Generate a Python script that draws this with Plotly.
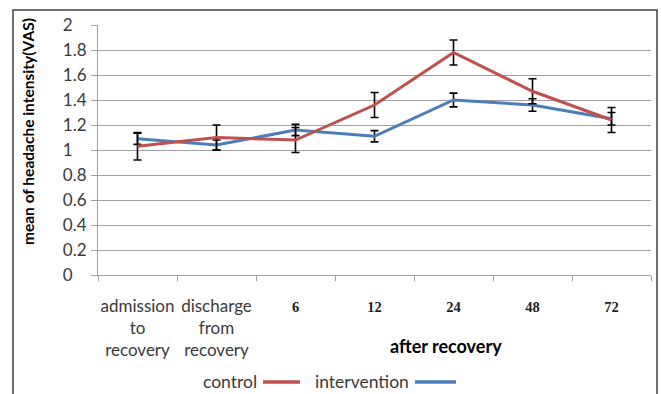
import plotly.graph_objects as go

# Time points and category labels
categories = ["admission to recovery", "discharge from recovery", "6", "12", "24", "48", "72"]
tick_labels = ["admission<br>to<br>recovery", "discharge<br>from<br>recovery", "6", "12", "24", "48", "72"]

# Mean headache intensity (VAS) and error-bar half widths
control_mean = [1.03, 1.10, 1.08, 1.36, 1.78, 1.47, 1.24]
control_err = [0.11, 0.10, 0.10, 0.10, 0.10, 0.10, 0.10]
intervention_mean = [1.09, 1.04, 1.16, 1.11, 1.40, 1.36, 1.25]
intervention_err = [0.045, 0.04, 0.045, 0.045, 0.055, 0.05, 0.05]

y_ticks = [0, 0.2, 0.4, 0.6, 0.8, 1, 1.2, 1.4, 1.6, 1.8, 2]
y_tick_text = ["0", "0.2", "0.4", "0.6", "0.8", "1", "1.2", "1.4", "1.6", "1.8", "2"]

RED = "#C0504D"
BLUE = "#4A7EBB"
GRID = "#A0A0A0"
TEXT = "#3a3a3a"
SANS = "Lato, Open Sans, sans-serif"
SERIF = "Liberation Serif, DejaVu Serif, serif"

W, H = 661, 394
L, R, T, B = 98, 10, 25, 119
PW, PH = W - L - R, H - T - B


def px_x(px):
    return (px - L) / PW


def px_y(py):
    return 1 - (py - T) / PH


def styled(label):
    # hour labels use a serif face, the text labels the sans face
    if label.isdigit():
        return (f'<span style="font-family:{SERIF};font-size:14.5px;'
                f'font-weight:bold;color:#222">{label}</span>')
    return label


def left_aligned(label, widest="0.8"):
    # pad short labels with invisible characters so every label starts at the same x
    pad = widest[len(label):] if len(label) < len(widest) else ""
    if not pad:
        return label
    return f'{label}<span style="color:rgba(0,0,0,0)">{pad}</span>'


fig = go.Figure()

fig.add_trace(go.Scatter(
    x=categories, y=intervention_mean, mode="lines", name="intervention",
    line=dict(color=BLUE, width=3),
    error_y=dict(type="data", array=intervention_err, color="black", thickness=1.6, width=4),
    showlegend=False,
))
fig.add_trace(go.Scatter(
    x=categories, y=control_mean, mode="lines", name="control",
    line=dict(color=RED, width=3),
    error_y=dict(type="data", array=control_err, color="black", thickness=1.6, width=4),
    showlegend=False,
))

fig.update_xaxes(
    type="category", automargin=False, tickangle=0,
    range=[-0.5, len(categories) - 0.5],
    tickmode="array", tickvals=categories, ticktext=[styled(t) for t in tick_labels],
    tickfont=dict(family=SANS, size=17, color=TEXT),
    ticks="outside", ticklen=5, tickcolor=GRID, tickwidth=1.2,
    tickson="boundaries",
    showline=True, linecolor=GRID, linewidth=1.2,
    showgrid=False, ticklabelstandoff=15,
)
fig.update_yaxes(
    range=[0, 2], automargin=False, tickmode="array", tickvals=y_ticks,
    ticktext=[left_aligned(t) for t in y_tick_text],
    tickfont=dict(family=SANS, size=17, color=TEXT),
    ticks="outside", ticklen=6, tickcolor=GRID, tickwidth=1.2,
    showline=True, linecolor=GRID, linewidth=1.2,
    showgrid=True, gridcolor=GRID, gridwidth=1.2,
    zeroline=False, ticklabelstandoff=1,
)

annotations = [
    dict(text="<b>mean of headache intensity(VAS)</b>", xref="paper", yref="paper",
         x=px_x(28), y=px_y(132), xanchor="center", yanchor="middle", textangle=-90,
         showarrow=False, font=dict(family=SANS, size=15.5, color="black")),
    dict(text="<b>after recovery</b>", xref="paper", yref="paper",
         x=px_x(446), y=px_y(346), xanchor="center", yanchor="middle",
         showarrow=False, font=dict(family=SANS, size=18, color="black")),
    dict(text="control", xref="paper", yref="paper",
         x=px_x(259), y=px_y(381), xanchor="right", yanchor="middle",
         showarrow=False, font=dict(family=SANS, size=17.5, color=TEXT)),
    dict(text="intervention", xref="paper", yref="paper",
         x=px_x(411), y=px_y(381), xanchor="right", yanchor="middle",
         showarrow=False, font=dict(family=SANS, size=17.5, color=TEXT)),
]

shapes = [
    # outer frame
    dict(type="rect", xref="paper", yref="paper",
         x0=px_x(13), x1=px_x(657), y0=px_y(420), y1=px_y(10),
         line=dict(color="#404040", width=1.5), layer="below"),
    # legend keys
    dict(type="line", xref="paper", yref="paper",
         x0=px_x(263), x1=px_x(300), y0=px_y(382), y1=px_y(382),
         line=dict(color=RED, width=3.5)),
    dict(type="line", xref="paper", yref="paper",
         x0=px_x(415), x1=px_x(456), y0=px_y(382), y1=px_y(382),
         line=dict(color=BLUE, width=3.5)),
]

fig.update_layout(
    width=W, height=H,
    margin=dict(l=L, r=R, t=T, b=B, autoexpand=False),
    paper_bgcolor="white", plot_bgcolor="white",
    annotations=annotations, shapes=shapes,
    showlegend=False,
)

fig.write_html("out.html")
